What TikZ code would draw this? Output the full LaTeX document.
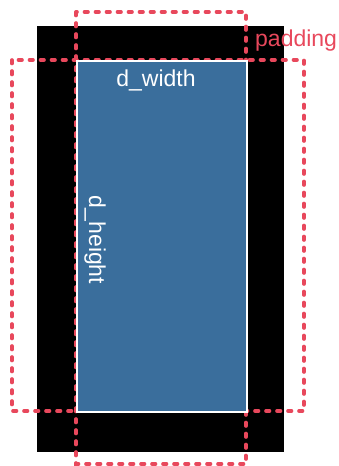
\documentclass[tikz,border=0pt]{standalone}
\usepackage{fontspec}
\setmainfont{Liberation Sans}
\usepackage{xcolor}
\usetikzlibrary{positioning}

\definecolor{padred}{RGB}{232,72,92}
\definecolor{areablue}{RGB}{58,110,156}

\tikzset{
  padbox/.style={draw=padred,line width=3.6pt,dash pattern=on 3.5pt off 7.5pt,line cap=round},
  lbl/.style={font=\fontsize{23}{27}\selectfont,inner sep=0pt}
}

\begin{document}
\begin{tikzpicture}[x=1pt,y=-1pt]
  \useasboundingbox (0,0) rectangle (339,466);
  % outer black frame
  \fill[black] (37,26) rectangle (284,452);
  % padding outlines
  \draw[padbox] (76,12) rectangle (246,464);
  \draw[padbox] (12,60) rectangle (304,411);
  % drawing area
  \node[draw=white,line width=2.4pt,fill=areablue,minimum width=170pt,minimum height=351pt,
        inner sep=0pt,anchor=north west] (area) at (76,60) {};
  \node[lbl,text=white] (dw) at (156,80) {d\_width};
  \node[lbl,text=white,rotate=-90] (dh) at (95,240) {d\_height};
  \node[lbl,text=padred,anchor=west] (pad) at (255,41) {padding};
\end{tikzpicture}
\end{document}
